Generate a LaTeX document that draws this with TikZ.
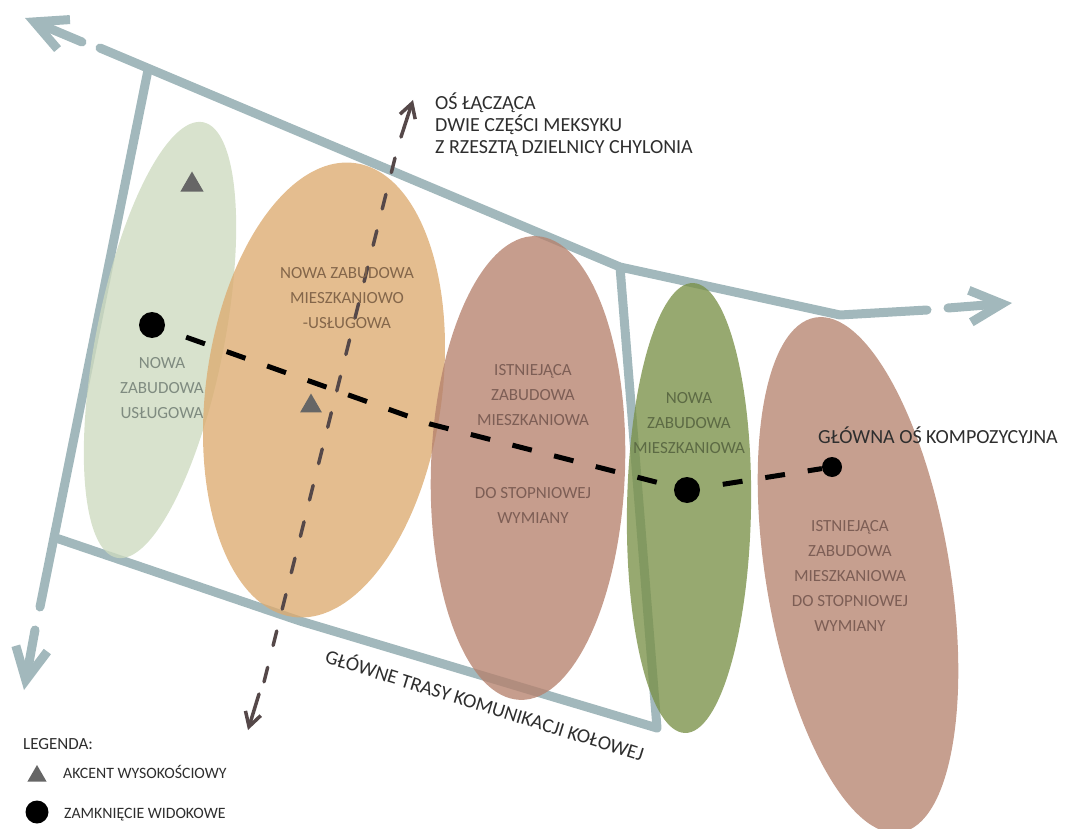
\documentclass[tikz,border=0pt]{standalone}
\usepackage{fontspec}
\setmainfont{Carlito}
\usetikzlibrary{arrows.meta,shapes.geometric}

\definecolor{roadgray}{HTML}{A2B8BC}
\definecolor{zoneA}{HTML}{CDDABF}
\definecolor{zoneB}{HTML}{DCAB70}
\definecolor{zoneC}{HTML}{B6816D}
\definecolor{zoneD}{HTML}{7A9148}
\definecolor{zoneE}{HTML}{B68470}
\definecolor{textA}{HTML}{7F8B80}
\definecolor{textB}{HTML}{84664A}
\definecolor{textC}{HTML}{7D5E55}
\definecolor{textD}{HTML}{5C6A44}
\definecolor{axisbrown}{HTML}{554849}
\definecolor{accentgray}{HTML}{666666}
\definecolor{notegray}{HTML}{2E2E2E}

\begin{document}
\begin{tikzpicture}[x=1pt,y=-1pt,
    road/.style={draw=roadgray, line width=9pt, line cap=round, line join=round},
    roadarrow/.style={road, -{Straight Barb[length=32pt,width=32pt]}},
    zone/.style={fill opacity=0.78},
    zonetext/.style={align=center, font=\fontsize{17}{25}\selectfont},
    linkaxis/.style={draw=axisbrown, line width=3.5pt, line cap=round, dash pattern=on 15pt off 22.5pt},
    linkarrow/.style={draw=axisbrown, line width=3.5pt, line cap=round, -{Straight Barb[length=14pt,width=16pt]}},
    compaxis/.style={draw=black, line width=5pt, dash pattern=on 20pt off 23pt, dash phase=20pt},
    accent/.style={fill=accentgray, regular polygon, regular polygon sides=3, inner sep=0pt},
    closure/.style={fill=black, circle, inner sep=0pt},
    note/.style={text=notegray, align=left, inner sep=0pt, font=\fontsize{20}{22}\selectfont}
]
\useasboundingbox (0,0) rectangle (1065,829);
\clip (0,0) rectangle (1065,829);

% roads
\coordinate (a1) at (100,48);
\coordinate (a2) at (620,267);
\coordinate (a3) at (840,315);
\coordinate (a4) at (927,310);
\coordinate (b1) at (148,70);
\coordinate (b2) at (40,607);
\coordinate (c1) at (56,538);
\coordinate (c2) at (300,621);
\coordinate (c3) at (657,728);
\coordinate (h1) at (82,42);
\coordinate (h1tip) at (25,18);
\coordinate (h2) at (948,308);
\coordinate (h2tip) at (1012,303);
\coordinate (h3) at (35,630);
\coordinate (h3tip) at (24,690);

\draw[road] (a1) -- (a2) -- (a3) -- (a4);
\draw[road] (b1) -- (b2);
\draw[road] (c1) -- (c2) -- (c3) -- (a2);
\draw[roadarrow] (h1) -- (h1tip);
\draw[roadarrow] (h2) -- (h2tip);
\draw[roadarrow] (h3) -- (h3tip);

% zones
\fill[zone, fill=zoneA] (160,340) ellipse [x radius=64pt, y radius=222pt, rotate=-11.2];
\fill[zone, fill=zoneB] (324,390) ellipse [x radius=118pt, y radius=229pt, rotate=-7.8];
\fill[zone, fill=zoneC] (528,468) ellipse [x radius=97pt, y radius=232pt, rotate=-2];
\fill[zone, fill=zoneD] (689,508) ellipse [x radius=62pt, y radius=225pt, rotate=-1];
\fill[zone, fill=zoneE] (858,575) ellipse [x radius=92pt, y radius=261pt, rotate=9.4];

% axes
\coordinate (v1) at (401,137);
\coordinate (v1tip) at (413,100);
\coordinate (v2) at (259,694);
\coordinate (v2tip) at (248,730);
\coordinate (v3) at (395,158);
\coordinate (v4) at (264,682);
\draw[linkaxis] (v3) -- (v4);
\draw[linkarrow] (v1) -- (v1tip);
\draw[linkarrow] (v2) -- (v2tip);

\node[closure, minimum size=26pt] (d1) at (152,325) {};
\node[closure, minimum size=26pt] (d2) at (687,490) {};
\node[closure, minimum size=20pt] (d3) at (832,467) {};
\coordinate (bend) at (430,424);
\draw[compaxis] (d1) -- (bend) -- (d2) -- (d3);

\node[accent, minimum size=27pt] (t1) at (192,185) {};
\node[accent, minimum size=25pt] (t2) at (311,406) {};

% zone labels
\node[zonetext, text=textA] (z1) at (162,388) {NOWA\\ZABUDOWA\\USŁUGOWA};
\node[zonetext, text=textB] (z2) at (347,298) {NOWA ZABUDOWA\\MIESZKANIOWO\\-USŁUGOWA};
\node[zonetext, text=textC] (z3) at (533,444) {ISTNIEJĄCA\\ZABUDOWA\\MIESZKANIOWA\\[48pt]DO STOPNIOWEJ\\WYMIANY};
\node[zonetext, text=textD] (z4) at (689,423) {NOWA\\ZABUDOWA\\MIESZKANIOWA};
\node[zonetext, text=textC] (z5) at (850,576) {ISTNIEJĄCA\\ZABUDOWA\\MIESZKANIOWA\\DO STOPNIOWEJ\\WYMIANY};

% notes
\node[note, anchor=west] (n1) at (435,125) {OŚ ŁĄCZĄCA\\DWIE CZĘŚCI MEKSYKU\\Z RZESZTĄ DZIELNICY CHYLONIA};
\node[note, anchor=base west] (n2) at (818,443) {GŁÓWNA OŚ KOMPOZYCYJNA};
\node[note, rotate=-17.3] (n3) at (485,704) {GŁÓWNE TRASY KOMUNIKACJI KOŁOWEJ};

% legend
\node[note, anchor=base west, font=\fontsize{17}{20}\selectfont] (lg) at (23,749) {LEGENDA:};
\node[accent, minimum size=22pt] (lt) at (37,776) {};
\node[note, anchor=base west, font=\fontsize{15.8}{20}\selectfont] (lttext) at (63,778) {AKCENT WYSOKOŚCIOWY};
\node[closure, minimum size=23pt] (ld) at (37,812) {};
\node[note, anchor=base west, font=\fontsize{15.8}{20}\selectfont] (ldtext) at (64,818) {ZAMKNIĘCIE WIDOKOWE};
\end{tikzpicture}
\end{document}
